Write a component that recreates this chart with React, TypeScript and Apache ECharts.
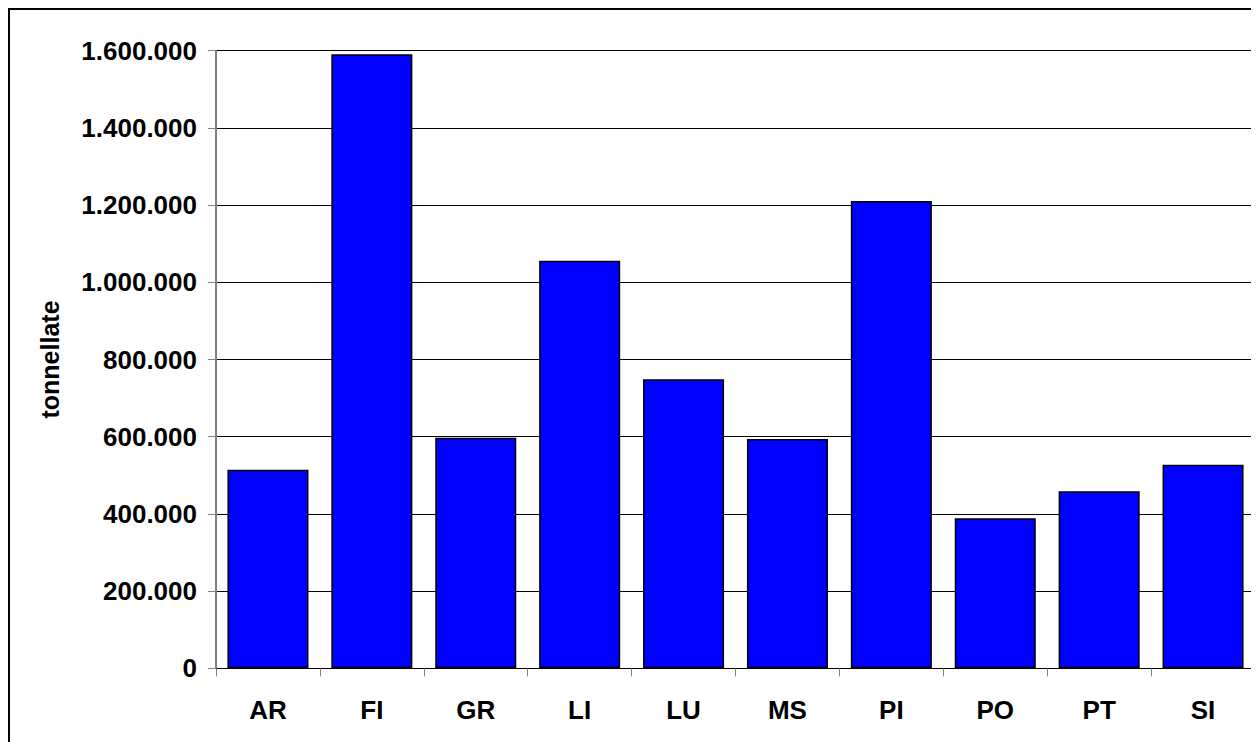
import React, { useEffect, useRef } from "react";
import * as echarts from "echarts";

const categories = ["AR", "FI", "GR", "LI", "LU", "MS", "PI", "PO", "PT", "SI"];
const values = [514500, 1591000, 597000, 1056000, 748700, 594000, 1210600, 388600, 458500, 527500];
const yTicks = { min: 0, max: 1600000, interval: 200000 };
const axisName = "tonnellate";

function fmt(v: number): string {
  return String(Math.round(v)).replace(/\B(?=(\d{3})+(?!\d))/g, ".");
}

export default function App() {
  const ref = useRef<HTMLDivElement>(null);
  useEffect(() => {
    document.body.style.overflow = "hidden";
    if (!ref.current) return;
    const chart = echarts.init(ref.current, null, { renderer: "svg" });
    const font = "Liberation Sans, Arial, Helvetica, sans-serif";
    chart.setOption({
      animation: false,
      backgroundColor: "#ffffff",
      grid: { left: 206, right: 4, top: 40.7, bottom: 73.7, containLabel: false },
      xAxis: {
        type: "category",
        data: categories,
        axisLine: { show: true, lineStyle: { color: "#000000", width: 1 } },
        axisTick: { show: true, length: 8, lineStyle: { color: "#808080", width: 1 } },
        axisLabel: { color: "#000", fontFamily: font, fontWeight: "bold", fontSize: 26, margin: 29 },
        splitLine: { show: false },
      },
      yAxis: {
        type: "value",
        min: yTicks.min,
        max: yTicks.max,
        interval: yTicks.interval,
        name: axisName,
        nameLocation: "middle",
        nameGap: 154,
        nameRotate: 90,
        nameTextStyle: { color: "#000", fontFamily: font, fontWeight: "bold", fontSize: 25 },
        axisLine: { show: true, lineStyle: { color: "#808080", width: 2 } },
        axisTick: { show: true, length: 8, lineStyle: { color: "#808080", width: 1 } },
        axisLabel: {
          color: "#000",
          fontFamily: font,
          fontWeight: "bold",
          fontSize: 26,
          margin: 19,
          formatter: (v: number) => fmt(v),
        },
        splitLine: { show: true, lineStyle: { color: "#000000", width: 1 } },
      },
      series: [
        {
          type: "bar",
          data: values,
          barCategoryGap: "22%",
          itemStyle: { color: "#0000FF", borderColor: "#000000", borderWidth: 1.5 },
        },
      ],
    });
    return () => chart.dispose();
  }, []);
  return (
    <div
      style={{
        width: 1251,
        height: 734,
        boxSizing: "border-box",
        borderTop: "2px solid #000",
        borderLeft: "2px solid #000",
        overflow: "hidden",
      }}
    >
      <div ref={ref} style={{ width: 1249, height: 732 }} />
    </div>
  );
}
